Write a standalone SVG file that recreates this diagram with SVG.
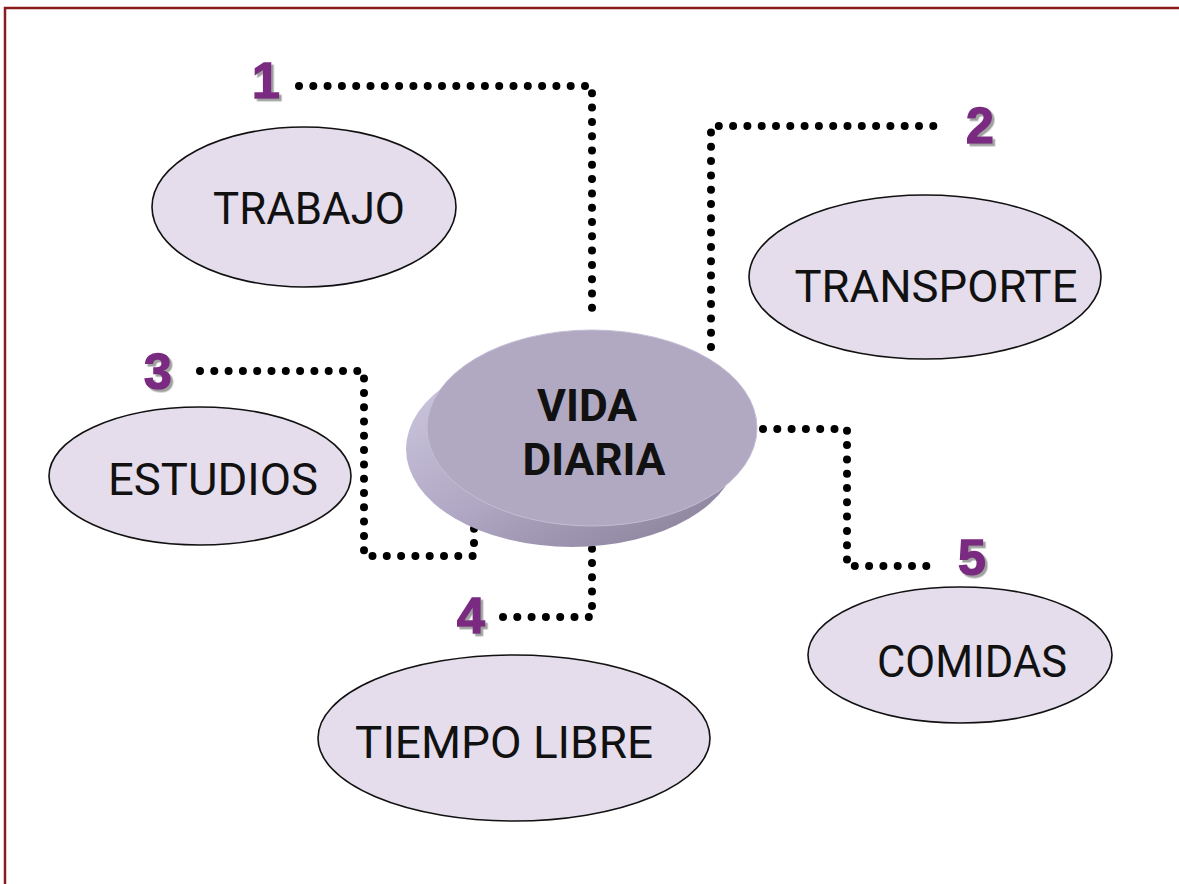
<svg xmlns="http://www.w3.org/2000/svg" width="1179" height="884" viewBox="0 0 1179 884">
  <style>
    .node { fill: #E5DDEC; stroke: #111; stroke-width: 1.6; }
    .lbl { font-family: Roboto, "Liberation Sans", sans-serif; font-size: 45px; fill: #111; text-anchor: middle; }
    .clbl { font-family: Roboto, "Liberation Sans", sans-serif; font-size: 45px; font-weight: bold; fill: #111; text-anchor: middle; }
    .num { font-family: "Liberation Sans", Arial, sans-serif; font-size: 50px; font-weight: bold; fill: #7A2A80; stroke: #7A2A80; stroke-width: 1.5; filter: url(#shadow); }
    .dots { fill: none; stroke: #000; stroke-width: 8; stroke-linecap: round; stroke-dasharray: 0 14.3; }
  </style>
  <defs>
    <linearGradient id="side" x1="0" y1="0" x2="1" y2="1">
      <stop offset="0" stop-color="#D2CCE4"/>
      <stop offset="0.5" stop-color="#AFA7C3"/>
      <stop offset="1" stop-color="#857D95"/>
    </linearGradient>
    <filter id="shadow" x="-20%" y="-20%" width="150%" height="150%">
      <feDropShadow dx="2.5" dy="2.5" stdDeviation="0.4" flood-color="#A0A0A0" flood-opacity="1"/>
    </filter>
  </defs>
  <rect x="0" y="0" width="1179" height="884" fill="#fff"/>
  <rect x="5" y="8" width="1200" height="900" fill="none" stroke="#8B1C1C" stroke-width="2.5"/>

  <g id="connectors">
    <path class="dots" d="M299 86 H592 V322"/>
    <path class="dots" d="M711 347 V126 H946"/>
    <path class="dots" d="M200 371 H364 V556 H474 V500"/>
    <path class="dots" d="M503 617 H592 V531"/>
    <path class="dots" d="M763 429 H847 V566 H936"/>
  </g>

  <g id="node-trabajo">
    <ellipse class="node" cx="304" cy="207" rx="152" ry="80"/>
    <text class="lbl" x="309" y="224" textLength="192" lengthAdjust="spacingAndGlyphs">TRABAJO</text>
  </g>
  <g id="node-transporte">
    <ellipse class="node" cx="925" cy="277" rx="176" ry="82"/>
    <text class="lbl" x="936" y="302" textLength="283" lengthAdjust="spacingAndGlyphs">TRANSPORTE</text>
  </g>
  <g id="node-estudios">
    <ellipse class="node" cx="200" cy="476" rx="151" ry="69"/>
    <text class="lbl" x="213" y="495" textLength="210" lengthAdjust="spacingAndGlyphs">ESTUDIOS</text>
  </g>
  <g id="node-comidas">
    <ellipse class="node" cx="960" cy="655" rx="152" ry="68"/>
    <text class="lbl" x="972" y="677" textLength="190" lengthAdjust="spacingAndGlyphs">COMIDAS</text>
  </g>
  <g id="node-tiempo-libre">
    <ellipse class="node" cx="514" cy="738" rx="196" ry="83"/>
    <text class="lbl" x="504" y="758" textLength="298" lengthAdjust="spacingAndGlyphs">TIEMPO LIBRE</text>
  </g>

  <g id="node-vida-diaria">
    <ellipse cx="572" cy="449" rx="166" ry="98" fill="url(#side)"/>
    <ellipse cx="592" cy="428" rx="165" ry="98" fill="#B1A9C2" stroke="#C4BDD5" stroke-width="1"/>
    <text class="clbl" x="587" y="421" textLength="100" lengthAdjust="spacingAndGlyphs">VIDA</text>
    <text class="clbl" x="594" y="475" textLength="143" lengthAdjust="spacingAndGlyphs">DIARIA</text>
  </g>

  <g id="numbers">
    <text class="num" x="252" y="98">1</text>
    <text class="num" x="966" y="143">2</text>
    <text class="num" x="144" y="389">3</text>
    <text class="num" x="457" y="633">4</text>
    <text class="num" x="958" y="575">5</text>
  </g>
</svg>
